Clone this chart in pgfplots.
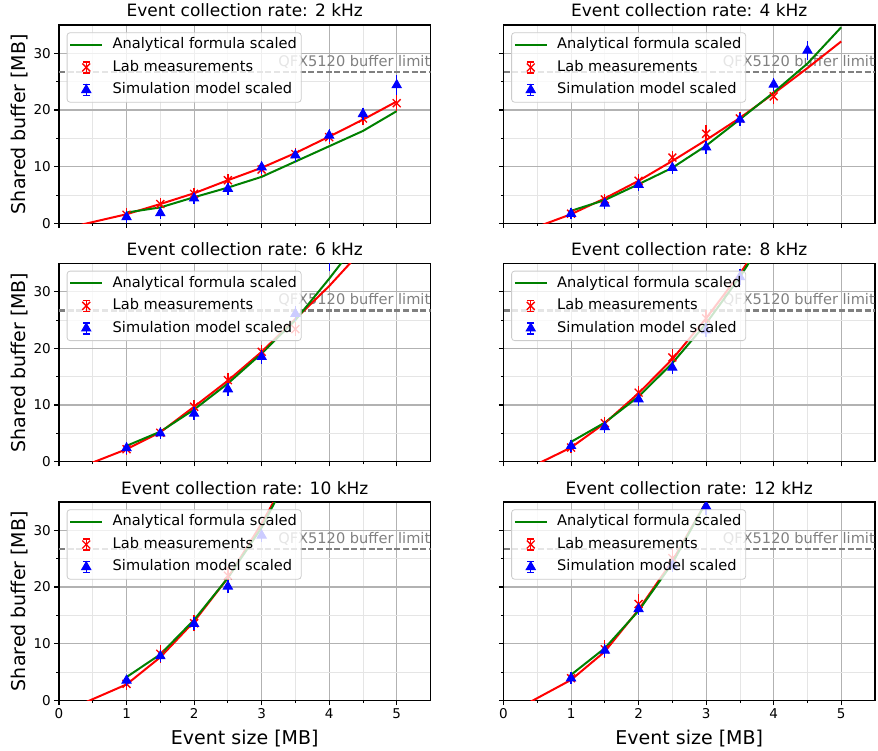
\documentclass[border=0pt]{standalone}
\usepackage{fontspec}
\setmainfont{DejaVu Sans}
\usepackage{pgfplots}
\pgfplotsset{compat=1.18}
\definecolor{mred}{RGB}{255,0,0}
\definecolor{mgreen}{RGB}{0,128,0}
\definecolor{mblue}{RGB}{0,0,255}
\pgfplotsset{
 panel/.style={
  scale only axis, width=371.5pt, height=198.3pt,
  xmin=0,xmax=5.5,ymin=0,ymax=35,
  xtick={0,1,2,3,4,5}, ytick={0,10,20,30},
  minor x tick num=1, minor y tick num=1,
  tick align=outside, tick pos=left,
  major tick length=4.7pt, minor tick length=2.7pt,
  every tick/.style={black, line width=1.1pt},
  every minor tick/.append style={line width=0.8pt},
  grid=both,
  major grid style={color=black!30, line width=1.1pt},
  minor grid style={color=black!10, line width=0.8pt},
  axis line style={line width=1.1pt},
  ticklabel style={font=\fontsize{13.5}{16}\selectfont},
  /pgf/number format/assume math mode=true,
  every axis title/.style={font=\fontsize{17}{20}\selectfont, at={(axis description cs:0.5,1)}, anchor=base, yshift=8pt},
  clip marker paths=true,
  legend cell align=left,
  legend style={at={(0,1)}, anchor=north west, xshift=7.7pt, yshift=-7.3pt,
    font=\fontsize{14.6}{17}\selectfont, draw=black!20, line width=0.8pt,
    rounded corners=3pt, fill=white, fill opacity=0.8, draw opacity=1, text opacity=1,
    inner xsep=2.3pt, inner ysep=1pt, column sep=7.6pt,
    nodes={inner xsep=2pt, inner ysep=4.5pt, text height=10.5pt, text depth=3pt}},
 },
 leftcol/.style={ylabel={Shared buffer [MB]},
   every axis y label/.style={font=\fontsize{19}{22}\selectfont, at={(axis description cs:-0.0915,0.5)}, anchor=base, rotate=90}},
 rightcol/.style={yticklabels={}},
 toprow/.style={xticklabels={}},
 botrow/.style={xlabel={Event size [MB]},
   every axis x label/.style={font=\fontsize{19}{22}\selectfont, at={(axis description cs:0.5,-0.2240)}, anchor=base}},
 fitline/.style={mred, line width=2pt, no markers, forget plot},
 anaplot/.style={mgreen, line width=2pt, no markers,
   legend image code/.code={\draw[##1, fill opacity=1, rounded corners=0pt] (0pt,0pt) -- (31.7pt,0pt);}},
 ebimage/.style={legend image code/.code={
   \path (0pt,0pt) (31.7pt,0pt);
   \draw[##1, mark=none, fill opacity=1, rounded corners=0pt, line width=1.3pt] (15.85pt,-5.5pt) -- (15.85pt,5.5pt);
   \draw[##1, mark=none, fill opacity=1, rounded corners=0pt, line width=1.3pt] (12.35pt,-5.5pt) -- (19.35pt,-5.5pt);
   \draw[##1, mark=none, fill opacity=1, rounded corners=0pt, line width=1.3pt] (12.35pt,5.5pt) -- (19.35pt,5.5pt);
   \draw[##1, fill opacity=1, rounded corners=0pt] plot coordinates {(15.85pt,0pt)};}},
 labplot/.style={ebimage, mred, only marks, mark=x, mark size=5.6pt, line width=1.35pt,
   error bars/y dir=both, error bars/y explicit, error bars/error mark=-,
   error bars/error mark options={mred, line width=1.3pt, mark size=3.5pt},
   error bars/error bar style={mred, line width=1.3pt}},
 simplot/.style={ebimage, mblue, only marks, mark=triangle*, mark size=5.2pt, line width=1pt,
   error bars/y dir=both, error bars/y explicit, error bars/error mark=-,
   error bars/error mark options={mblue, line width=1.3pt, mark size=3.5pt},
   error bars/error bar style={mblue, line width=1.3pt}},
 limitline/.style={black!50, line width=2.2pt, dash pattern=on 6pt off 2.6pt, forget plot},
}
\newcommand{\limitstuff}{%
 \addplot[limitline] coordinates {(0,26.7) (5.5,26.7)};
 \node[anchor=base east, inner sep=0pt, text=black!50, font=\fontsize{14.6}{17}\selectfont] at (axis cs:5.5,27.75) {QFX5120 buffer limit};
}
\begin{document}
\begin{tikzpicture}
\useasboundingbox (0,0) rectangle (878pt,750pt);
% ---------------- 2 kHz
\begin{axis}[panel, leftcol, toprow, at={(59pt,526.7pt)}, anchor=south west, title={Event collection rate: 2 kHz}]
\limitstuff
\addplot[fitline] coordinates {(0,-1.16) (1,1.6) (1.5,3.4) (2,5.3) (2.5,7.6) (3,9.8) (3.5,12.4) (4,15.3) (4.5,18.3) (5,21.5)};
\addplot[anaplot] coordinates {(1,1.9) (1.5,2.8) (2,4.6) (2.5,6.3) (3,8.2) (3.5,10.9) (4,13.6) (4.5,16.3) (5,19.8)};
\addlegendentry{Analytical formula scaled}
\addplot[labplot] coordinates {(1,1.5) +- (0,0.5) (1.5,3.4) +- (0,0.4) (2,5.2) +- (0,0.5) (2.5,7.6) +- (0,0.5) (3,9.5) +- (0,0.6) (3.5,12.2) +- (0,0.5) (4,15.2) +- (0,0.5) (4.5,18.5) +- (0,0.6) (5,21.2) +- (0,0.8)};
\addlegendentry{Lab measurements}
\addplot[simplot] coordinates {(1,1.1) +- (0,0.4) (1.5,1.8) +- (0,0.4) (2,4.4) +- (0,0.4) (2.5,6.1) +- (0,0.4) (3,9.9) +- (0,0.5) (3.5,12.0) +- (0,0.5) (4,15.5) +- (0,0.5) (4.5,19.3) +- (0,0.5) (5,24.4) +- (0,1.1)};
\addlegendentry{Simulation model scaled}
\end{axis}
% ---------------- 4 kHz
\begin{axis}[panel, rightcol, toprow, at={(503.5pt,526.7pt)}, anchor=south west, title={Event collection rate: 4 kHz}]
\limitstuff
\addplot[fitline] coordinates {(0,-2.84) (1,1.6) (1.5,4.4) (2,7.5) (2.5,11.0) (3,14.7) (3.5,18.6) (4,22.9) (4.5,27.4) (5,32.1)};
\addplot[anaplot] coordinates {(1,2.2) (1.5,4.1) (2,6.9) (2.5,9.8) (3,13.7) (3.5,18.35) (4,23.1) (4.5,28.2) (5,34.6)};
\addlegendentry{Analytical formula scaled}
\addplot[labplot] coordinates {(1,1.7) +- (0,0.4) (1.5,4.2) +- (0,0.4) (2,7.5) +- (0,0.5) (2.5,11.6) +- (0,0.6) (3,15.8) +- (0,0.9) (3.5,18.5) +- (0,0.5) (4,22.4) +- (0,0.8)};
\addlegendentry{Lab measurements}
\addplot[simplot] coordinates {(1,1.7) +- (0,0.4) (1.5,3.5) +- (0,0.4) (2,6.8) +- (0,0.4) (2.5,9.8) +- (0,0.4) (3,13.4) +- (0,0.5) (3.5,18.3) +- (0,0.5) (4,24.5) +- (0,0.6) (4.5,30.5) +- (0,1.0)};
\addlegendentry{Simulation model scaled}
\end{axis}
% ---------------- 6 kHz
\begin{axis}[panel, leftcol, toprow, at={(59pt,288.3pt)}, anchor=south west, title={Event collection rate: 6 kHz}]
\limitstuff
\addplot[fitline] coordinates {(0,-2.48) (1,2.2) (1.5,5.2) (2,9.7) (2.5,14.3) (3,19.4) (3.5,25.2) (4,31.0) (4.5,37.5)};
\addplot[anaplot] coordinates {(1,2.8) (1.5,5.3) (2,9.2) (2.5,13.8) (3,19.1) (3.5,25.0) (4,32.3) (4.5,40)};
\addlegendentry{Analytical formula scaled}
\addplot[labplot] coordinates {(1,2.2) +- (0,0.4) (1.5,5.1) +- (0,0.4) (2,9.7) +- (0,0.6) (2.5,14.4) +- (0,0.7) (3,19.4) +- (0,0.6) (3.5,23.4) +- (0,0.6)};
\addlegendentry{Lab measurements}
\addplot[simplot] coordinates {(1,2.4) +- (0,0.4) (1.5,5.0) +- (0,0.4) (2,8.5) +- (0,0.5) (2.5,12.8) +- (0,0.5) (3,18.5) +- (0,0.6) (3.5,26.1) +- (0,0.7) (4,35.2) +- (0,1.0)};
\addlegendentry{Simulation model scaled}
\end{axis}
% ---------------- 8 kHz
\begin{axis}[panel, rightcol, toprow, at={(503.5pt,288.3pt)}, anchor=south west, title={Event collection rate: 8 kHz}]
\limitstuff
\addplot[fitline] coordinates {(0,-3.31) (1,2.5) (1.5,6.8) (2,12.1) (2.5,18.1) (3,25.3) (3.5,33.2) (4,42)};
\addplot[anaplot] coordinates {(1,3.5) (1.5,6.9) (2,11.5) (2.5,17.4) (3,24.4) (3.5,32.6) (4,42)};
\addlegendentry{Analytical formula scaled}
\addplot[labplot] coordinates {(1,2.5) +- (0,0.4) (1.5,6.8) +- (0,0.5) (2,12.2) +- (0,0.6) (2.5,18.4) +- (0,0.9) (3,25.3) +- (0,0.8)};
\addlegendentry{Lab measurements}
\addplot[simplot] coordinates {(1,2.8) +- (0,0.4) (1.5,6.1) +- (0,0.4) (2,11.0) +- (0,0.5) (2.5,16.6) +- (0,0.5) (3,23.2) +- (0,0.6) (3.5,32.6) +- (0,0.8)};
\addlegendentry{Simulation model scaled}
\end{axis}
% ---------------- 10 kHz
\begin{axis}[panel, leftcol, botrow, at={(59pt,49.7pt)}, anchor=south west, title={Event collection rate: 10 kHz}]
\limitstuff
\addplot[fitline] coordinates {(0,-2.39) (1,2.8) (1.5,7.6) (2,13.9) (2.5,21.6) (3,31.2) (3.5,42)};
\addplot[anaplot] coordinates {(1,4.1) (1.5,8.1) (2,14.2) (2.5,21.6) (3,30.5) (3.5,42)};
\addlegendentry{Analytical formula scaled}
\addplot[labplot] coordinates {(1,2.9) +- (0,0.4) (1.5,8.2) +- (0,1.0) (2,13.6) +- (0,0.8) (2.5,22.0) +- (0,0.9)};
\addlegendentry{Lab measurements}
\addplot[simplot] coordinates {(1,3.5) +- (0,0.4) (1.5,7.8) +- (0,0.5) (2,13.5) +- (0,0.5) (2.5,20.1) +- (0,0.5) (3,29.1) +- (0,0.6)};
\addlegendentry{Simulation model scaled}
\end{axis}
% ---------------- 12 kHz
\begin{axis}[panel, rightcol, botrow, at={(503.5pt,49.7pt)}, anchor=south west, title={Event collection rate: 12 kHz}]
\limitstuff
\addplot[fitline] coordinates {(0,-2.83) (1,3.6) (1.5,8.6) (2,16.0) (2.5,24.6) (3,35.0) (3.5,46)};
\addplot[anaplot] coordinates {(1,4.5) (1.5,9.2) (2,15.8) (2.5,24.2) (3,35.0) (3.5,46)};
\addlegendentry{Analytical formula scaled}
\addplot[labplot] coordinates {(1,3.9) +- (0,0.4) (1.5,9.0) +- (0,1.0) (2,17.0) +- (0,1.1) (2.5,25.1) +- (0,1.2)};
\addlegendentry{Lab measurements}
\addplot[simplot] coordinates {(1,3.9) +- (0,0.4) (1.5,8.8) +- (0,0.5) (2,16.1) +- (0,0.5) (2.5,23.8) +- (0,0.6) (3,34.2) +- (0,0.8)};
\addlegendentry{Simulation model scaled}
\end{axis}
\end{tikzpicture}
\end{document}
